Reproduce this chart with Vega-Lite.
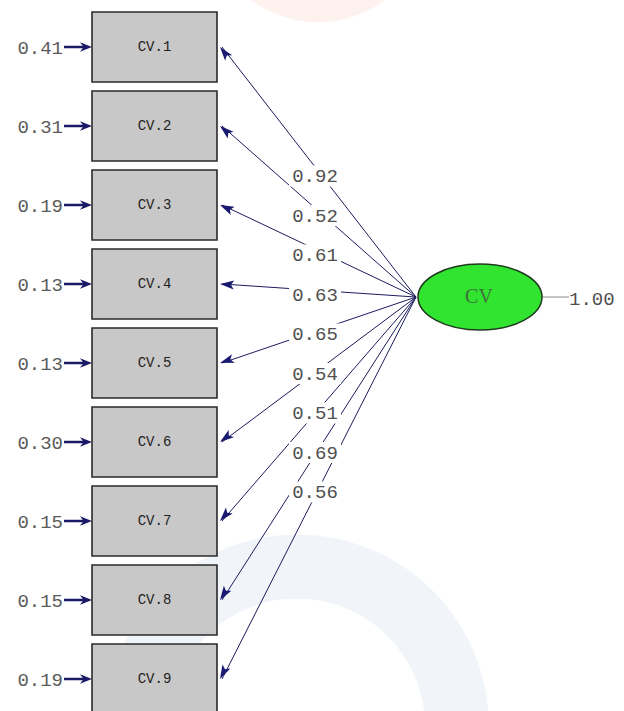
{
  "$schema": "https://vega.github.io/schema/vega-lite/v6.json",
  "width": 624,
  "height": 711,
  "padding": 0,
  "autosize": {"type": "none"},
  "background": "white",
  "config": {"view": {"stroke": null}},
  "datasets": {
    "ind": [
      {"name": "CV.1", "i": 1, "load": 0.92, "err": 0.41},
      {"name": "CV.2", "i": 2, "load": 0.52, "err": 0.31},
      {"name": "CV.3", "i": 3, "load": 0.61, "err": 0.19},
      {"name": "CV.4", "i": 4, "load": 0.63, "err": 0.13},
      {"name": "CV.5", "i": 5, "load": 0.65, "err": 0.13},
      {"name": "CV.6", "i": 6, "load": 0.54, "err": 0.30},
      {"name": "CV.7", "i": 7, "load": 0.51, "err": 0.15},
      {"name": "CV.8", "i": 8, "load": 0.69, "err": 0.15},
      {"name": "CV.9", "i": 9, "load": 0.56, "err": 0.19}
    ],
    "lat": [
      {"name": "CV", "i": 4.165, "var": 1.00}
    ]
  },
  "layer": [
    {
      "data": {"name": "lat"},
      "mark": {"type": "point", "shape": "circle", "filled": false, "stroke": "#f1f4f9", "strokeWidth": 64, "opacity": 1},
      "encoding": {
        "x": {"datum": 297, "type": "quantitative", "scale": {"domain": [0, 624]}, "axis": null},
        "y": {"datum": 9.6, "type": "quantitative", "scale": {"domain": [0.405, 9.405], "reverse": true}, "axis": null},
        "size": {"value": 102400}
      }
    },
    {
      "data": {"name": "lat"},
      "mark": {"type": "point", "shape": "circle", "filled": true, "color": "#fdf2ee", "opacity": 1},
      "encoding": {
        "x": {"datum": 318, "type": "quantitative", "scale": {"domain": [0, 624]}, "axis": null},
        "y": {"datum": -0.73, "type": "quantitative", "scale": {"domain": [0.405, 9.405], "reverse": true}, "axis": null},
        "size": {"value": 50176}
      }
    },
    {
      "data": {"name": "ind"},
      "mark": {"type": "rule", "color": "#1c1c5e", "strokeWidth": 1},
      "encoding": {
        "x": {"datum": 222, "type": "quantitative", "scale": {"domain": [0, 624]}, "axis": null},
        "y": {"field": "i", "type": "quantitative", "scale": {"domain": [0.405, 9.405], "reverse": true}, "axis": null},
        "x2": {"datum": 416},
        "y2": {"datum": 4.165}
      }
    },
    {
      "data": {"name": "ind"},
      "transform": [{"calculate": "2.633 + 0.5 * (datum.i - 1)", "as": "ly"}],
      "mark": {"type": "point", "shape": "M-1,-0.4L1,-0.4L1,0.4L-1,0.4Z", "filled": true, "color": "white", "opacity": 1},
      "encoding": {
        "x": {"datum": 315, "type": "quantitative", "scale": {"domain": [0, 624]}, "axis": null},
        "y": {"field": "ly", "type": "quantitative", "scale": {"domain": [0.405, 9.405], "reverse": true}, "axis": null},
        "size": {"value": 2704}
      }
    },
    {
      "data": {"name": "ind"},
      "transform": [{"calculate": "2.633 + 0.5 * (datum.i - 1)", "as": "ly"}],
      "mark": {"type": "text", "font": "Liberation Mono", "fontSize": 19, "align": "center", "baseline": "middle", "color": "#505050"},
      "encoding": {
        "x": {"datum": 315, "type": "quantitative", "scale": {"domain": [0, 624]}, "axis": null},
        "y": {"field": "ly", "type": "quantitative", "scale": {"domain": [0.405, 9.405], "reverse": true}, "axis": null},
        "text": {"field": "load", "type": "quantitative", "format": ".2f"}
      }
    },
    {
      "data": {"name": "ind"},
      "mark": {"type": "point", "shape": "M-1,-0.56L1,-0.56L1,0.56L-1,0.56Z", "filled": true, "fill": "#c8c8c8", "stroke": "#2a2a2a", "strokeWidth": 1.6, "opacity": 1},
      "encoding": {
        "x": {"datum": 154.5, "type": "quantitative", "scale": {"domain": [0, 624]}, "axis": null},
        "y": {"field": "i", "type": "quantitative", "scale": {"domain": [0.405, 9.405], "reverse": true}, "axis": null},
        "size": {"value": 15625}
      }
    },
    {
      "data": {"name": "ind"},
      "transform": [{"calculate": "atan2((datum.i - 4.165) * 79, -197) * 180 / PI", "as": "ang"}],
      "mark": {"type": "point", "shape": "M0,0L-1,-0.32L-0.78,0L-1,0.32Z", "filled": true, "color": "#1a1a70", "opacity": 1},
      "encoding": {
        "x": {"datum": 220, "type": "quantitative", "scale": {"domain": [0, 624]}, "axis": null},
        "y": {"field": "i", "type": "quantitative", "scale": {"domain": [0.405, 9.405], "reverse": true}, "axis": null},
        "angle": {"field": "ang", "type": "quantitative", "scale": null},
        "size": {"value": 784}
      }
    },
    {
      "data": {"name": "ind"},
      "mark": {"type": "text", "font": "Liberation Mono", "fontSize": 14, "align": "center", "baseline": "middle", "color": "#222222"},
      "encoding": {
        "x": {"datum": 154.5, "type": "quantitative", "scale": {"domain": [0, 624]}, "axis": null},
        "y": {"field": "i", "type": "quantitative", "scale": {"domain": [0.405, 9.405], "reverse": true}, "axis": null},
        "text": {"field": "name", "type": "nominal"}
      }
    },
    {
      "data": {"name": "ind"},
      "mark": {"type": "rule", "color": "#1a1a66", "strokeWidth": 2.5},
      "encoding": {
        "x": {"datum": 64, "type": "quantitative", "scale": {"domain": [0, 624]}, "axis": null},
        "x2": {"datum": 84},
        "y": {"field": "i", "type": "quantitative", "scale": {"domain": [0.405, 9.405], "reverse": true}, "axis": null}
      }
    },
    {
      "data": {"name": "ind"},
      "mark": {"type": "point", "shape": "M0,0L-1,-0.4L-0.7,0L-1,0.4Z", "filled": true, "color": "#1a1a66", "opacity": 1},
      "encoding": {
        "x": {"datum": 92, "type": "quantitative", "scale": {"domain": [0, 624]}, "axis": null},
        "y": {"field": "i", "type": "quantitative", "scale": {"domain": [0.405, 9.405], "reverse": true}, "axis": null},
        "size": {"value": 576}
      }
    },
    {
      "data": {"name": "ind"},
      "mark": {"type": "text", "font": "Liberation Mono", "fontSize": 19, "align": "right", "baseline": "middle", "color": "#5a5a5a", "dy": 1},
      "encoding": {
        "x": {"datum": 63, "type": "quantitative", "scale": {"domain": [0, 624]}, "axis": null},
        "y": {"field": "i", "type": "quantitative", "scale": {"domain": [0.405, 9.405], "reverse": true}, "axis": null},
        "text": {"field": "err", "type": "quantitative", "format": ".2f"}
      }
    },
    {
      "data": {"name": "lat"},
      "mark": {"type": "rule", "color": "#8a8a8a", "strokeWidth": 1},
      "encoding": {
        "x": {"datum": 542, "type": "quantitative", "scale": {"domain": [0, 624]}, "axis": null},
        "x2": {"datum": 569},
        "y": {"field": "i", "type": "quantitative", "scale": {"domain": [0.405, 9.405], "reverse": true}, "axis": null}
      }
    },
    {
      "data": {"name": "lat"},
      "mark": {"type": "text", "font": "Liberation Mono", "fontSize": 19, "align": "left", "baseline": "middle", "color": "#505050", "dy": 2},
      "encoding": {
        "x": {"datum": 569, "type": "quantitative", "scale": {"domain": [0, 624]}, "axis": null},
        "y": {"field": "i", "type": "quantitative", "scale": {"domain": [0.405, 9.405], "reverse": true}, "axis": null},
        "text": {"field": "var", "type": "quantitative", "format": ".2f"}
      }
    },
    {
      "data": {"name": "lat"},
      "mark": {"type": "point", "shape": "M-1,0A1,0.532,0,1,1,1,0A1,0.532,0,1,1,-1,0Z", "filled": true, "fill": "#30e430", "stroke": "#1f3a1f", "strokeWidth": 1.5, "opacity": 1},
      "encoding": {
        "x": {"datum": 480, "type": "quantitative", "scale": {"domain": [0, 624]}, "axis": null},
        "y": {"field": "i", "type": "quantitative", "scale": {"domain": [0.405, 9.405], "reverse": true}, "axis": null},
        "size": {"value": 15376}
      }
    },
    {
      "data": {"name": "lat"},
      "mark": {"type": "text", "font": "Liberation Serif", "fontSize": 20, "align": "center", "baseline": "middle", "color": "#3f6f3f"},
      "encoding": {
        "x": {"datum": 479, "type": "quantitative", "scale": {"domain": [0, 624]}, "axis": null},
        "y": {"field": "i", "type": "quantitative", "scale": {"domain": [0.405, 9.405], "reverse": true}, "axis": null},
        "text": {"field": "name", "type": "nominal"}
      }
    }
  ]
}
